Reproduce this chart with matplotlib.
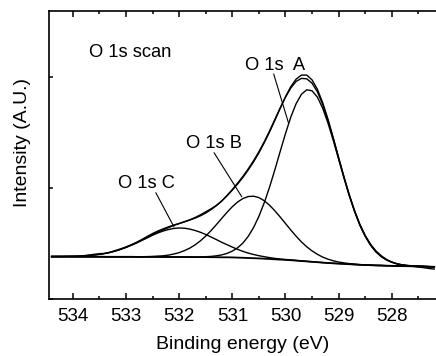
import numpy as np
import matplotlib
matplotlib.use("Agg")
import matplotlib.pyplot as plt
from matplotlib.ticker import MultipleLocator

plt.rcParams["font.family"] = ["Liberation Sans", "DejaVu Sans"]

# binding energy grid (eV), high -> low, 0.1 eV steps
energy = np.linspace(534.4, 527.2, 73)

# Shirley-type background (arb. units)
background = [
    42.4, 42.4, 42.4, 42.4, 42.3, 42.3, 42.3, 42.3, 42.3, 42.3,  # 534.4-533.5
    42.2, 42.2, 42.2, 42.2, 42.2, 42.2, 42.1, 42.1, 42.1, 42.1,  # 533.4-532.5
    42.1, 42.0, 42.0, 42.0, 42.0, 42.0, 41.9, 41.9, 41.9, 41.9,  # 532.4-531.5
    41.8, 41.8, 41.7, 41.7, 41.6, 41.4, 41.2, 41.0, 40.8, 40.6,  # 531.4-530.5
    40.3, 40.0, 39.7, 39.4, 39.1, 38.8, 38.4, 38.0, 37.6, 37.2,  # 530.4-529.5
    36.8, 36.4, 36.0, 35.7, 35.4, 35.1, 34.8, 34.5, 34.2, 34.0,  # 529.4-528.5
    33.8, 33.6, 33.5, 33.3, 33.2, 33.0, 32.9, 32.8, 32.7, 32.6,  # 528.4-527.5
    32.5, 32.3, 32.2,                                            # 527.4-527.2
]

# fitted components, height above background
peak_a = [
    0.0, 0.0, 0.0, 0.0, 0.0, 0.0, 0.0, 0.0, 0.0, 0.0,
    0.0, 0.0, 0.0, 0.0, 0.0, 0.0, 0.0, 0.0, 0.0, 0.0,
    0.0, 0.0, 0.0, 0.0, 0.0, 0.0, 0.1, 0.1, 0.2, 0.4,
    0.8, 1.4, 2.4, 3.9, 6.3, 9.8, 14.8, 21.7, 30.7, 42.1,
    55.9, 71.8, 89.5, 108.1, 126.3, 143.1, 156.9, 166.7, 171.6, 171.0,
    165.1, 154.4, 139.9, 122.7, 104.3, 85.9, 68.5, 52.9, 39.6, 28.7,
    20.1, 13.7, 9.0, 5.8, 3.6, 2.1, 1.2, 0.7, 0.4, 0.2,
    0.1, 0.1, 0.0,
]
peak_b = [
    0.0, 0.0, 0.0, 0.0, 0.0, 0.0, 0.0, 0.0, 0.0, 0.0,
    0.0, 0.0, 0.0, 0.0, 0.0, 0.1, 0.1, 0.2, 0.3, 0.5,
    0.8, 1.2, 1.9, 3.0, 4.4, 6.4, 9.0, 12.3, 16.3, 21.1,
    26.6, 32.6, 38.9, 45.0, 50.7, 55.6, 59.3, 61.5, 62.0, 60.8,
    58.0, 53.8, 48.5, 42.6, 36.4, 30.2, 24.4, 19.1, 14.6, 10.9,
    7.9, 5.5, 3.8, 2.5, 1.6, 1.0, 0.6, 0.4, 0.2, 0.1,
    0.1, 0.0, 0.0, 0.0, 0.0, 0.0, 0.0, 0.0, 0.0, 0.0,
    0.0, 0.0, 0.0,
]
peak_c = [
    0.1, 0.1, 0.1, 0.2, 0.4, 0.5, 0.8, 1.2, 1.7, 2.4,
    3.3, 4.4, 5.8, 7.5, 9.4, 11.6, 14.0, 16.6, 19.1, 21.7,
    24.0, 26.0, 27.5, 28.6, 29.0, 28.8, 28.0, 26.6, 24.8, 22.6,
    20.2, 17.6, 15.0, 12.6, 10.3, 8.2, 6.4, 4.9, 3.7, 2.7,
    2.0, 1.4, 0.9, 0.6, 0.4, 0.3, 0.2, 0.1, 0.1, 0.0,
    0.0, 0.0, 0.0, 0.0, 0.0, 0.0, 0.0, 0.0, 0.0, 0.0,
    0.0, 0.0, 0.0, 0.0, 0.0, 0.0, 0.0, 0.0, 0.0, 0.0,
    0.0, 0.0, 0.0,
]

# measured O 1s spectrum
measured = [
    42.4, 42.5, 42.5, 42.6, 42.7, 42.9, 43.3, 43.9, 44.7, 45.3,
    45.6, 46.8, 48.5, 50.2, 52.1, 54.3, 56.8, 59.6, 62.6, 65.5,
    68.0, 70.2, 72.2, 74.0, 75.6, 77.3, 79.2, 81.5, 84.2, 87.2,
    90.2, 93.6, 98.0, 103.5, 109.5, 115.9, 122.7, 130.2, 138.3, 147.3,
    157.2, 168.0, 179.5, 191.0, 201.8, 211.0, 217.6, 220.6, 220.2, 215.8,
    207.2, 194.6, 178.6, 160.4, 141.2, 122.2, 104.4, 88.4, 74.7, 63.6,
    54.9, 48.2, 43.3, 39.6, 37.0, 35.2, 34.0, 33.2, 32.6, 32.0,
    31.3, 30.5, 29.9,
]

bg = np.array(background)
comp_a = bg + np.array(peak_a)
comp_b = bg + np.array(peak_b)
comp_c = bg + np.array(peak_c)
envelope = bg + np.array(peak_a) + np.array(peak_b) + np.array(peak_c)

fig = plt.figure(figsize=(4.36, 3.56), dpi=100)
ax = fig.add_axes([49 / 436, 57 / 356, 389 / 436, 288 / 356])

lw = 1.0
ax.plot(energy, measured, color="black", lw=lw)
ax.plot(energy, envelope, color="black", lw=lw)
ax.plot(energy, comp_a, color="black", lw=lw)
ax.plot(energy, comp_b, color="black", lw=lw)
ax.plot(energy, comp_c, color="black", lw=lw)
ax.plot(energy, bg, color="black", lw=1.3)

ax.set_xlim(534.45, 527.13)
ax.set_ylim(0, 288)

ax.xaxis.set_major_locator(MultipleLocator(1))
ax.xaxis.set_minor_locator(MultipleLocator(0.5))
ax.set_yticks([0, 111, 222])
ax.set_yticklabels([])
ax.tick_params(axis="x", which="major", direction="in", length=4.5, width=1.1,
               top=True, labelsize=13.5, pad=6.5)
ax.tick_params(axis="x", which="minor", direction="in", length=2.2, width=1.1, top=True)
ax.tick_params(axis="y", which="major", direction="in", length=3, width=1.1)
for sp in ax.spines.values():
    sp.set_linewidth(1.2)

ax.set_xlabel("Binding energy (eV)", fontsize=14)
ax.set_ylabel("Intensity (A.U.)", fontsize=14)
ax.xaxis.set_label_coords(0.497, -0.13)
ax.yaxis.set_label_coords(-0.045, 0.542)

# labels and leader lines
ax.text(533.70, 242, "O 1s scan", fontsize=13.2)
ax.text(530.754, 229, "O 1s  A", fontsize=13.2)
ax.text(531.863, 151, "O 1s B", fontsize=13.2)
ax.text(533.16, 111, "O 1s C", fontsize=13.2)

leaders = [((530.222, 225), (529.945, 176.3)),
           ((531.344, 146.3), (530.823, 102.3)),
           ((532.44, 106.3), (532.10, 72.3))]
for start, end in leaders:
    ax.annotate("", xy=end, xytext=start,
                arrowprops=dict(arrowstyle="-", lw=0.8, shrinkA=0, shrinkB=0))

fig.savefig("out.png", dpi=100)
